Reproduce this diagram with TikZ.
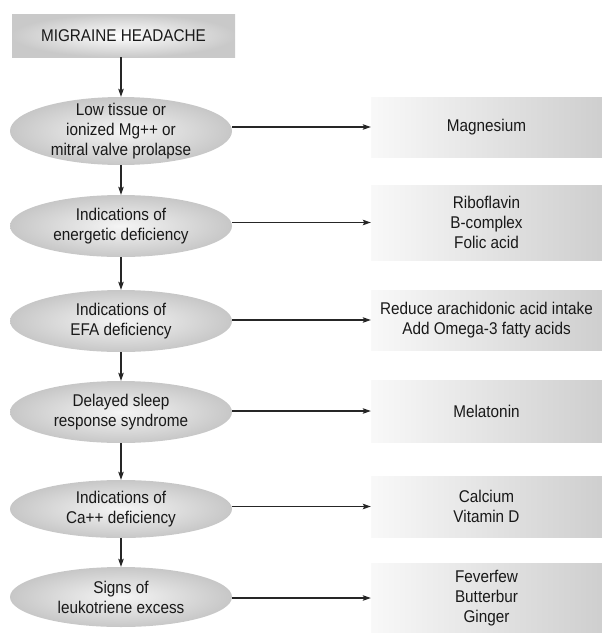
\documentclass[tikz,border=0pt]{standalone}
\usepackage{fontspec}
\setmainfont{Liberation Sans}[FakeStretch=0.9]
\usetikzlibrary{shapes.geometric,arrows.meta}
\begin{document}
\begin{tikzpicture}[x=1pt,y=-1pt,
  every node/.style={font=\fontsize{17}{20}\selectfont, text=black!90},
  topbox/.style={rectangle, draw=none, inner sep=0pt, minimum width=223pt, minimum height=43pt, inner color=white, outer color=gray!42},
  ellbox/.style={ellipse, draw=none, inner sep=0pt, minimum width=222pt, inner color=gray!8, outer color=gray!44},
  txt/.style={align=center, inner sep=0pt},
  resbox/.style={rectangle, draw=none, inner sep=0pt, minimum width=231pt, left color=gray!5, right color=gray!38, align=center},
  arr/.style={line width=1.1pt, draw=black!85, -{Stealth[length=8pt,width=5.5pt,inset=1.5pt]}}
]
\useasboundingbox (0,0) rectangle (602,633);
% left column
\node[topbox] (top) at (123.5,35.5) {MIGRAINE HEADACHE};
\node[ellbox, minimum height=68pt] (e1) at (121,131) {};
\node[txt] (t1) at (e1) {Low tissue or\\ionized Mg++ or\\mitral valve prolapse};
\node[ellbox, minimum height=62pt] (e2) at (121,226) {};
\node[txt] (t2) at (e2) {Indications of\\energetic deficiency};
\node[ellbox, minimum height=62pt] (e3) at (121,321) {};
\node[txt] (t3) at (e3) {Indications of\\EFA deficiency};
\node[ellbox, minimum height=62pt] (e4) at (121,412) {};
\node[txt] (t4) at (e4) {Delayed sleep\\response syndrome};
\node[ellbox, minimum height=58pt] (e5) at (121,509) {};
\node[txt] (t5) at (e5) {Indications of\\Ca++ deficiency};
\node[ellbox, minimum height=60pt] (e6) at (121,597) {};
\node[txt] (t6) at (e6) {Signs of\\leukotriene excess};
% right column
\node[resbox, minimum height=60pt] (r1) at (486.5,127) {Magnesium};
\node[resbox, minimum height=75pt] (r2) at (486.5,222.5) {Riboflavin\\B-complex\\Folic acid};
\node[resbox, minimum height=60pt] (r3) at (486.5,320) {Reduce arachidonic acid intake\\Add Omega-3 fatty acids};
\node[resbox, minimum height=62pt] (r4) at (486.5,411) {Melatonin};
\node[resbox, minimum height=61pt] (r5) at (486.5,506.5) {Calcium\\Vitamin D};
\node[resbox, minimum height=70pt] (r6) at (486.5,598) {Feverfew\\Butterbur\\Ginger};
% vertical arrows
\draw[arr] (e1.north |- top.south) -- (e1.north);
\draw[arr] (e1.south) -- (e2.north);
\draw[arr] (e2.south) -- (e3.north);
\draw[arr] (e3.south) -- (e4.north);
\draw[arr] (e4.south) -- (e5.north);
\draw[arr] (e5.south) -- (e6.north);
% horizontal arrows
\draw[arr] (e1.east |- r1.west) -- (r1.west);
\draw[arr] (e2.east |- r2.west) -- (r2.west);
\draw[arr] (e3.east |- r3.west) -- (r3.west);
\draw[arr] (e4.east |- r4.west) -- (r4.west);
\draw[arr] (e5.east |- r5.west) -- (r5.west);
\draw[arr] (e6.east |- r6.west) -- (r6.west);
\end{tikzpicture}
\end{document}
